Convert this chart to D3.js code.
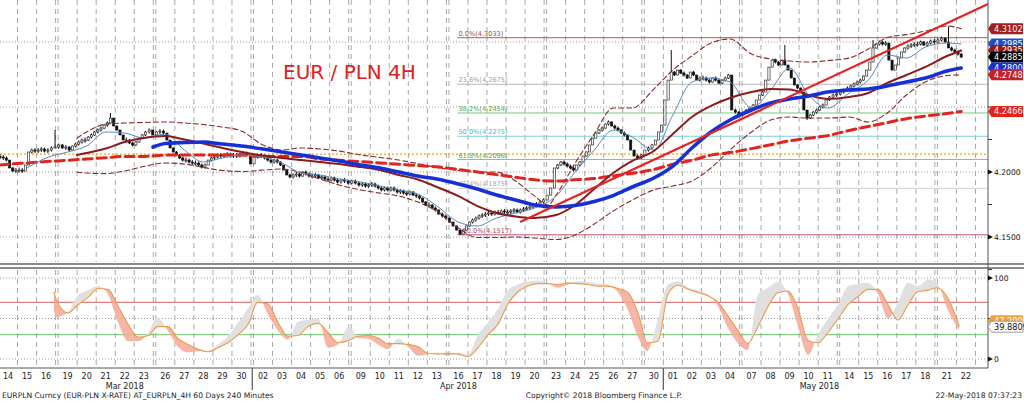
<!DOCTYPE html>
<html><head><meta charset="utf-8">
<script src="https://cdn.jsdelivr.net/npm/d3@7"></script>
<style>body{margin:0;background:#fff}svg{display:block}text{font-family:"DejaVu Sans",sans-serif}</style>
</head><body>
<svg id="c" width="1024" height="401"></svg>
<script>
// ---------------- DATA ----------------
const tradingDays = ["2018-03-14","2018-03-15","2018-03-16","2018-03-19","2018-03-20","2018-03-21","2018-03-22","2018-03-23",
"2018-03-26","2018-03-27","2018-03-28","2018-03-29","2018-03-30","2018-04-02","2018-04-03","2018-04-04","2018-04-05","2018-04-06",
"2018-04-09","2018-04-10","2018-04-11","2018-04-12","2018-04-13","2018-04-16","2018-04-17","2018-04-18","2018-04-19","2018-04-20",
"2018-04-23","2018-04-24","2018-04-25","2018-04-26","2018-04-27","2018-04-30","2018-05-01","2018-05-02","2018-05-03","2018-05-04",
"2018-05-07","2018-05-08","2018-05-09","2018-05-10","2018-05-11","2018-05-14","2018-05-15","2018-05-16","2018-05-17","2018-05-18",
"2018-05-21","2018-05-22"];
const monthLabels = [["Mar 2018",0,12],["Apr 2018",13,33],["May 2018",34,49]];

const firstOpen = 4.2120;
// 4-hour closes, six per day
const closes = [
4.2115,4.2108,4.2092,4.2031,4.2008,4.2015,
4.2015,4.2008,4.2054,4.2154,4.2169,4.2161,
4.2169,4.2177,4.2161,4.2169,4.2185,4.2192,
4.2208,4.2185,4.2192,4.2169,4.2200,4.2215,
4.2231,4.2246,4.2246,4.2269,4.2285,4.2308,
4.2323,4.2338,4.2361,4.2377,4.2415,4.2354,
4.2323,4.2285,4.2246,4.2246,4.2223,4.2208,
4.2231,4.2261,4.2285,4.2308,4.2323,4.2285,
4.2308,4.2315,4.2300,4.2246,4.2185,4.2154,
4.2131,4.2108,4.2092,4.2092,4.2077,4.2069,
4.2069,4.2054,4.2038,4.2054,4.2092,4.2108,
4.2115,4.2131,4.2123,4.2131,4.2138,4.2123,
4.2131,4.2123,4.2138,4.2146,4.2131,4.2062,
4.2115,4.2131,4.2123,4.2108,4.2092,4.2077,
4.2092,4.2077,4.2054,4.2015,4.1977,4.1962,
4.1977,4.1985,4.1969,4.2000,4.1985,4.1969,
4.1969,4.1977,4.1954,4.1962,4.1946,4.1938,
4.1954,4.1938,4.1923,4.1938,4.1931,4.1915,
4.1931,4.1915,4.1900,4.1908,4.1892,4.1900,
4.1908,4.1892,4.1877,4.1862,4.1877,4.1862,
4.1877,4.1862,4.1846,4.1854,4.1838,4.1831,
4.1846,4.1823,4.1815,4.1800,4.1769,4.1746,
4.1746,4.1723,4.1708,4.1677,4.1662,4.1646,
4.1615,4.1585,4.1554,4.1523,4.1554,4.1585,
4.1615,4.1631,4.1646,4.1662,4.1669,4.1677,
4.1685,4.1677,4.1692,4.1685,4.1700,4.1692,
4.1692,4.1700,4.1708,4.1692,4.1708,4.1715,
4.1723,4.1731,4.1746,4.1754,4.1769,4.1785,
4.1823,4.1877,4.2031,4.2054,4.2077,4.2062,
4.2046,4.2031,4.2015,4.2054,4.2077,4.2123,
4.2154,4.2208,4.2261,4.2300,4.2323,4.2338,
4.2369,4.2385,4.2354,4.2338,4.2323,4.2300,
4.2285,4.2246,4.2169,4.2123,4.2108,4.2131,
4.2169,4.2185,4.2208,4.2246,4.2308,4.2361,
4.2554,4.2707,4.2769,4.2746,4.2784,4.2761,
4.2746,4.2723,4.2769,4.2746,4.2707,4.2723,
4.2723,4.2707,4.2692,4.2723,4.2707,4.2684,
4.2707,4.2723,4.2746,4.2477,4.2461,4.2438,
4.2454,4.2477,4.2492,4.2515,4.2554,4.2592,
4.2615,4.2707,4.2807,4.2861,4.2846,4.2823,
4.2861,4.2823,4.2784,4.2723,4.2669,4.2646,
4.2615,4.2477,4.2415,4.2438,4.2461,4.2477,
4.2500,4.2515,4.2554,4.2577,4.2592,4.2600,
4.2615,4.2631,4.2646,4.2661,4.2677,4.2692,
4.2707,4.2738,4.2784,4.2846,4.2954,4.2984,
4.3000,4.2984,4.2992,4.2861,4.2784,4.2823,
4.2877,4.2923,4.2954,4.2969,4.2977,4.2984,
4.2984,4.3000,4.2977,4.2992,4.3007,4.3000,
4.3015,4.3030,4.3000,4.2954,4.2938,4.2923,
4.2907,4.2885];
const spikeHighs = [[17,4.2323],[34,4.2454],[206,4.2938],[241,4.2977],[268,4.3015],[291,4.3120]];
const spikeLows = [[141,4.1517],[248,4.2400]];

// indicator lines: [day position, value]
const maLongRed = [[-0.45,4.2054],[0,4.206],[1,4.207],[2,4.208],[3,4.209],[4,4.210],[5,4.211],[6,4.212],[7,4.212],[8,4.213],[9,4.213],[10,4.213],[11,4.213],[12,4.213],[13,4.212],[14,4.212],[15,4.212],[16,4.210],[17,4.209],[18,4.208],[19,4.207],[20,4.206],[21,4.205],[22,4.204],[23,4.202],[24,4.200],[25,4.198],[26,4.196],[27,4.194],[28,4.193],[29,4.194],[30,4.195],[31,4.197],[32,4.199],[33,4.202],[34,4.206],[35,4.209],[36,4.213],[37,4.215],[38,4.218],[39,4.221],[40,4.224],[41,4.226],[42,4.228],[43,4.232],[44,4.235],[45,4.238],[46,4.241],[47,4.243],[48,4.245],[48.75,4.2466]];
const maBlue = [[7.43,4.2192],[8,4.2219],[9,4.2227],[10,4.2231],[11,4.2215],[12,4.2200],[13,4.2177],[14,4.2154],[15,4.2131],[16,4.2108],[17,4.2085],[18,4.2054],[19,4.2031],[20,4.2000],[21,4.1969],[22,4.1946],[23,4.1908],[24,4.1869],[25,4.1823],[26,4.1785],[27,4.1746],[28,4.1731],[29,4.1742],[30,4.1773],[31,4.1819],[32,4.1885],[33,4.1954],[34,4.2046],[35,4.2185],[36,4.2308],[37,4.2400],[38,4.2477],[39,4.2531],[40,4.2562],[41,4.2585],[42,4.2615],[43,4.2631],[44,4.2638],[45,4.2662],[46,4.2692],[47,4.2723],[48,4.2777],[48.75,4.2800]];
const maMaroon = [[3.49,4.2131],[4,4.2146],[5,4.2181],[6,4.2231],[7,4.2262],[8,4.2277],[9,4.2250],[10,4.2219],[11,4.2185],[12,4.2154],[13,4.2127],[14,4.2108],[15,4.2092],[16,4.2077],[17,4.2062],[18,4.2038],[19,4.2015],[20,4.1977],[21,4.1942],[22,4.1885],[23,4.1815],[24,4.1738],[25,4.1685],[26,4.1658],[27,4.1646],[28,4.1669],[29,4.1746],[30,4.1869],[31,4.1992],[32,4.2085],[33,4.2162],[34,4.2292],[35,4.2423],[36,4.2508],[37,4.2569],[38,4.2615],[39,4.2638],[40,4.2635],[41,4.2592],[42,4.2562],[43,4.2577],[44,4.2608],[45,4.2685],[46,4.2746],[47,4.2808],[48,4.2892],[48.75,4.2935]];
const maThin = [[1,4.2031],[2,4.2108],[3,4.2154],[4,4.2200],[5,4.2308],[6,4.2300],[7,4.2261],[8,4.2292],[9,4.2169],[10,4.2077],[11,4.2108],[12,4.2131],[13,4.2115],[14,4.2069],[15,4.1992],[16,4.1977],[17,4.1946],[18,4.1923],[19,4.1892],[20,4.1862],[21,4.1831],[22,4.1738],[23,4.1615],[24,4.1585],[25,4.1646],[26,4.1685],[27,4.1723],[28,4.1815],[29,4.2000],[30,4.2169],[31,4.2323],[32,4.2269],[33,4.2169],[34,4.2438],[35,4.2692],[36,4.2723],[37,4.2692],[38,4.2492],[39,4.2631],[40,4.2800],[41,4.2592],[42,4.2492],[43,4.2608],[44,4.2707],[45,4.2900],[46,4.2877],[47,4.2961],[48,4.2992],[48.75,4.2985]];
const bbUpper = [[3.49,4.2261],[4,4.2308],[5,4.2369],[6,4.2377],[7,4.2381],[8,4.2385],[9,4.2377],[10,4.2365],[11,4.2346],[12,4.2315],[13,4.2208],[14,4.2169],[15,4.2185],[16,4.2177],[17,4.2161],[18,4.2131],[19,4.2112],[20,4.2092],[21,4.2065],[22,4.2035],[23,4.2012],[24,4.2000],[25,4.2000],[26,4.1931],[27,4.1815],[27.63,4.1746],[28,4.1823],[29,4.2069],[30,4.2292],[31,4.2492],[32,4.2492],[33,4.2638],[34,4.2784],[35,4.2892],[36,4.2992],[37,4.3023],[38,4.2907],[39,4.2869],[40,4.2854],[41,4.2846],[42,4.2857],[43,4.2877],[44,4.2946],[45,4.3034],[46,4.3057],[47,4.3084],[48,4.3123],[48.75,4.3102]];
const bbLower = [[3.49,4.2000],[4,4.1992],[5,4.1988],[6,4.2008],[7,4.2042],[8,4.2069],[9,4.2062],[10,4.2035],[11,4.2012],[12,4.2004],[13,4.2015],[14,4.2023],[15,4.1996],[16,4.1946],[17,4.1900],[18,4.1862],[19,4.1838],[20,4.1815],[21,4.1769],[22,4.1700],[23,4.1569],[24,4.1496],[25,4.1496],[26,4.1500],[27,4.1492],[28,4.1481],[29,4.1516],[30,4.1600],[31,4.1700],[32,4.1785],[33,4.1862],[34,4.1892],[35,4.1931],[36,4.2031],[37,4.2169],[38,4.2308],[39,4.2400],[40,4.2423],[41,4.2415],[42,4.2415],[43,4.2423],[44,4.2385],[45,4.2454],[46,4.2592],[47,4.2692],[48,4.2742],[48.75,4.2748]];
const trendLine = [[26.24,4.1615],[50.16,4.3292]];
const fibLevels = [["0.0%",4.3033],["23.6%",4.2675],["38.2%",4.2454],["50.0%",4.2275],["61.8%",4.2096],["76.4%",4.1875],["100.0%",4.1517]];
const fibStart = 23.0;
const orangeLevel = 4.2138;
const priceTicks = [4.15, 4.20];
const priceMinor = [4.125, 4.175, 4.225, 4.25, 4.275, 4.30];
const priceGrid = [4.15, 4.20, 4.25, 4.30];

// oscillator (lower panel)
const oscT = [2.36,2.49,3.02,3.55,4.07,4.60,5.12,5.65,6.17,6.70,7.22,7.62,8.14,8.67,9.19,9.72,10.24,10.77,11.29,11.82,12.34,12.74,13.26,13.79,14.31,14.84,15.36,15.89,16.41,16.94,17.46,17.86,18.38,18.91,19.43,19.96,20.48,21.01,21.53,22.06,22.45,22.98,23.50,24.03,24.55,25.08,25.60,26.13,26.65,27.18,27.57,28.10,28.62,29.15,29.67,30.20,30.72,31.25,31.78,32.30,32.69,33.22,33.74,34.27,34.80,35.32,35.85,36.37,36.90,37.42,37.82,38.34,38.87,39.39,39.92,40.44,40.97,41.49,42.02,42.54,42.94,43.46,43.99,44.51,45.04,45.56,46.09,46.61,47.14,47.53,48.06,48.65];
const oscSlow = [83,72,57,67,76,87,86,65,43,27,29,40,40,25,18,12,9,14,20,30,44,70,68,45,28,29,40,44,33,20,23,28,29,26,19,19,18,15,7,6,7,6,3,14,30,43,68,83,90,93,93,92,94,93,92,90,90,87,82,54,20,22,80,91,86,82,78,70,53,33,19,40,65,82,84,62,23,20,33,52,67,77,86,86,67,48,67,83,85,88,75,39.8809];
const oscFast = [60,52,58,79,85,90,80,45,22,22,33,52,35,15,8,10,10,18,28,45,64,79,55,35,24,46,48,50,14,18,40,26,25,18,12,25,15,4,6,8,4,8,5,30,45,62,85,92,96,97,94,88,92,96,95,93,92,82,60,25,10,50,92,96,88,85,80,65,38,18,11,80,88,95,80,40,5,30,50,70,90,93,94,80,50,70,94,90,98,94,60,35];
const oscLevels = [70, 30];
const oscGrid = [0, 50, 100];
const oscTagValues = [47.2, 39.8809];

// ---------------- LAYOUT ----------------
const svg = d3.select("#c");
const W = 1024, axisX = 988, upTop = 0, upBot = 262, loTop = 270, loBot = 368;
const dayW = 19.04;
const parse = d3.timeParse("%Y-%m-%d");
const dates = tradingDays.map(parse);
let wk = 0;
const weekStart = [];
const centers = dates.map((dt, i) => {
  const ws = i === 0 || (dt - dates[i - 1]) > 1.5 * 864e5;
  if (i > 0 && ws) wk++;
  weekStart.push(ws);
  return 8 + i * dayW + wk * 2.5;
});
const x = d3.scaleLinear().domain(d3.range(dates.length)).range(centers);
const y = d3.scaleLinear().domain([4.1308, 4.3323]).range([upBot, upTop]);
const yo = d3.scaleLinear().domain([0, 100]).range([359, 278]);

svg.append("rect").attr("width", W).attr("height", 401).attr("fill", "#fff");
const defs = svg.append("defs");
defs.append("clipPath").attr("id", "clipUp").append("rect").attr("x", 0).attr("y", upTop).attr("width", axisX).attr("height", upBot - upTop);
defs.append("clipPath").attr("id", "clipLo").append("rect").attr("x", 0).attr("y", loTop).attr("width", axisX).attr("height", loBot - loTop);

// vertical dashed day gridlines
const vlines = [];
centers.forEach((c, i) => { if (weekStart[i]) vlines.push(c - dayW / 2); vlines.push(c + dayW / 2); });
const grid = svg.append("g");
vlines.forEach(v => {
  if (v < 0 || v > axisX) return;
  [[upTop, upBot], [loTop, loBot]].forEach(([a, b]) =>
    grid.append("line").attr("x1", v).attr("x2", v).attr("y1", a).attr("y2", b)
      .attr("stroke", "#a8a8a8").attr("stroke-width", 1).attr("stroke-dasharray", "5,4"));
});
// horizontal dotted gridlines
priceGrid.forEach(p => grid.append("line").attr("x1", 0).attr("x2", axisX).attr("y1", y(p)).attr("y2", y(p))
  .attr("stroke", "#9a9a9a").attr("stroke-dasharray", "1,2"));
oscGrid.forEach(v => grid.append("line").attr("x1", 0).attr("x2", axisX).attr("y1", yo(v)).attr("y2", yo(v))
  .attr("stroke", "#9a9a9a").attr("stroke-dasharray", "1,2"));

// ---- upper panel ----
const up = svg.append("g").attr("clip-path", "url(#clipUp)");
up.append("line").attr("x1", 0).attr("x2", axisX).attr("y1", y(orangeLevel)).attr("y2", y(orangeLevel))
  .attr("stroke", "#f0a020").attr("stroke-width", 1.3).attr("stroke-dasharray", "2,2");
const fibCol = ["#c05050", "#b8b8b8", "#7cc97c", "#7fd3dc", "#7cc97c", "#cfcfcf", "#c05070"];
const fibTxt = ["#b04848", "#a0a0a0", "#4caf50", "#45bccb", "#4caf50", "#a8a8a8", "#b04868"];
const fx0 = x(fibStart);
fibLevels.forEach(([lab, v], i) => {
  up.append("line").attr("x1", fx0 - 1).attr("x2", axisX).attr("y1", y(v)).attr("y2", y(v)).attr("stroke", fibCol[i]).attr("stroke-width", 1);
  up.append("text").attr("x", fx0).attr("y", y(v) - 2).attr("font-size", 6.6).attr("fill", fibTxt[i]).text(`${lab}(${v.toFixed(4)})`);
});

// candles
const cg = up.append("g");
const barT = k => Math.floor(k / 6) + ((k % 6) - 2.5) / 6;
const hiMap = new Map(spikeHighs), loMap = new Map(spikeLows);
closes.forEach((c, k) => {
  const o = k === 0 ? firstOpen : closes[k - 1];
  const hi = Math.max(o, c, hiMap.get(k) || 0), lo = Math.min(o, c, loMap.get(k) || 99);
  const bx = x(barT(k));
  let y1 = y(hi), y2 = y(lo);
  if (y2 - y1 < 5) { const m = (y1 + y2) / 2; y1 = m - 2.5; y2 = m + 2.5; }
  cg.append("line").attr("x1", bx).attr("x2", bx).attr("y1", y1).attr("y2", y2).attr("stroke", "#111").attr("stroke-width", 1);
  const bt = y(Math.max(o, c)), bb = y(Math.min(o, c));
  cg.append("rect").attr("x", bx - 1.1).attr("width", 2.2).attr("y", bt).attr("height", Math.max(1, bb - bt))
    .attr("fill", c >= o ? "#fff" : "#111").attr("stroke", "#111").attr("stroke-width", 0.6);
});

const line = d3.line().x(d => x(d[0])).y(d => y(d[1])).curve(d3.curveMonotoneX);
const path = (data, col, w, dash) => up.append("path").attr("d", line(data)).attr("fill", "none")
  .attr("stroke", col).attr("stroke-width", w).attr("stroke-dasharray", dash || null).attr("stroke-linecap", "round");
path(bbUpper, "#8b2a2a", 1.1, "5,3");
path(bbLower, "#8b2a2a", 1.1, "5,3");
path(maLongRed, "#e4231d", 3, "9,5");
path(maThin, "#5a88bb", 1);
path(maMaroon, "#8e1b1b", 2);
path(maBlue, "#1630d8", 3.6);
up.append("path").attr("d", d3.line().x(d => x(d[0])).y(d => y(d[1]))(trendLine))
  .attr("stroke", "#e32424").attr("stroke-width", 2.2).attr("fill", "none");

svg.append("text").attr("x", 283).attr("y", 79).attr("font-family", "Liberation Sans, Arial, sans-serif")
  .attr("font-size", 20).attr("fill", "#e0201f").text("EUR / PLN 4H");

// ---- panel separator ----
[264, 268].forEach(v => svg.append("line").attr("x1", 0).attr("x2", W).attr("y1", v).attr("y2", v).attr("stroke", "#8a8a8a").attr("stroke-width", 2));

// ---- lower panel ----
const lo = svg.append("g").attr("clip-path", "url(#clipLo)");
const oc = ["#d96060", "#6cc46c"];
oscLevels.forEach((v, i) => lo.append("line").attr("x1", 0).attr("x2", axisX).attr("y1", yo(v)).attr("y2", yo(v)).attr("stroke", oc[i]).attr("stroke-width", 1));
const od = oscT.map((t, i) => ({ t, s: oscSlow[i], f: oscFast[i] }));
const cv = d3.curveMonotoneX;
defs.append("clipPath").attr("id", "oAbove").append("path")
  .attr("d", d3.area().x(d => x(d.t)).y0(loTop).y1(d => yo(d.s)).curve(cv)(od));
defs.append("clipPath").attr("id", "oBelow").append("path")
  .attr("d", d3.area().x(d => x(d.t)).y0(loBot).y1(d => yo(d.s)).curve(cv)(od));
const between = d3.area().x(d => x(d.t)).y0(d => yo(d.s)).y1(d => yo(d.f)).curve(cv)(od);
lo.append("g").attr("clip-path", "url(#oAbove)").append("path").attr("d", between).attr("fill", "#e0e0e0");
lo.append("g").attr("clip-path", "url(#oBelow)").append("path").attr("d", between).attr("fill", "#f6a898").attr("opacity", 0.85);
lo.append("path").attr("d", d3.line().x(d => x(d.t)).y(d => yo(d.s)).curve(cv)(od))
  .attr("fill", "none").attr("stroke", "#ee9a48").attr("stroke-width", 1.1);

// ---- axes ----
svg.append("line").attr("x1", axisX).attr("x2", axisX).attr("y1", 0).attr("y2", loBot).attr("stroke", "#555").attr("stroke-width", 1);
svg.append("line").attr("x1", 0).attr("x2", axisX).attr("y1", loBot).attr("y2", loBot).attr("stroke", "#555").attr("stroke-width", 1);
const tri = (yy) => svg.append("path").attr("d", `M${axisX},${yy - 2.5}L${axisX + 5},${yy}L${axisX},${yy + 2.5}Z`).attr("fill", "#111");
priceMinor.forEach(p => svg.append("line").attr("x1", axisX).attr("x2", axisX + 4).attr("y1", y(p)).attr("y2", y(p)).attr("stroke", "#333"));
priceTicks.forEach(p => { tri(y(p)); svg.append("text").attr("x", axisX + 6).attr("y", y(p) + 3).attr("font-size", 7.6).attr("fill", "#111").text(p.toFixed(4)); });
[0, 100].forEach(v => { tri(yo(v)); svg.append("text").attr("x", axisX + 6).attr("y", yo(v) + 3).attr("font-size", 7.6).attr("fill", "#111").text(v); });
svg.append("line").attr("x1", axisX).attr("x2", axisX + 4).attr("y1", yo(50)).attr("y2", yo(50)).attr("stroke", "#333");

// value tags (stacked like the reference: later tags cover earlier ones)
function tag(v, sc, txt, bg, fg, stroke) {
  const yy = sc(v);
  svg.append("path").attr("d", `M${axisX},${yy}L${axisX + 3.5},${yy - 5.5}L1023,${yy - 5.5}L1023,${yy + 5.5}L${axisX + 3.5},${yy + 5.5}Z`)
    .attr("fill", bg).attr("stroke", stroke || "none").attr("stroke-width", 0.8);
  svg.append("text").attr("x", axisX + 6).attr("y", yy + 3).attr("font-size", 8.2).attr("fill", fg).text(txt);
}
const last = a => a[a.length - 1][1];
tag(last(bbUpper), y, last(bbUpper).toFixed(4), "#a11e22", "#fff");
tag(last(maThin), y, last(maThin).toFixed(4), "#1e4fc8", "#fff");
tag(last(maMaroon), y, last(maMaroon).toFixed(4), "#8e1b1b", "#fff");
tag(closes[closes.length - 1], y, closes[closes.length - 1].toFixed(4), "#000", "#fff");
tag(last(maBlue), y, last(maBlue).toFixed(4), "#1630d8", "#fff");
tag(last(bbLower), y, last(bbLower).toFixed(4), "#c4202a", "#fff");
tag(last(maLongRed), y, last(maLongRed).toFixed(4), "#e8211d", "#fff");
tag(oscTagValues[0], yo, oscTagValues[0].toFixed(4), "#f0a040", "#fff");
tag(oscTagValues[1], yo, oscTagValues[1].toFixed(4), "#fff", "#111", "#888");

// x-axis day labels
centers.forEach((c, i) => svg.append("text").attr("x", c).attr("y", 379).attr("text-anchor", "middle")
  .attr("font-size", 8).attr("fill", "#222").text(d3.timeFormat("%d")(dates[i])));
monthLabels.forEach(([lab, a, b], i) => {
  svg.append("text").attr("x", (centers[a] + centers[b]) / 2).attr("y", 389).attr("text-anchor", "middle")
    .attr("font-size", 8).attr("fill", "#222").text(lab);
  if (i > 0) {
    const sx = (centers[a - 1] + centers[a]) / 2;
    svg.append("line").attr("x1", sx).attr("x2", sx).attr("y1", loBot).attr("y2", 390).attr("stroke", "#555").attr("stroke-width", 1.2);
  }
});
svg.append("text").attr("x", 2).attr("y", 398).attr("font-size", 7.6).attr("fill", "#222")
  .text("EURPLN Curncy (EUR-PLN X-RATE) AT_EURPLN_4H 60 Days 240 Minutes");
svg.append("text").attr("x", 604).attr("y", 398).attr("text-anchor", "middle").attr("font-size", 7.6).attr("fill", "#222")
  .text("Copyright\u00a9 2018 Bloomberg Finance L.P.");
svg.append("text").attr("x", 1022).attr("y", 398).attr("text-anchor", "end").attr("font-size", 7.6).attr("fill", "#222")
  .text("22-May-2018 07:37:23");
</script>
</body></html>
